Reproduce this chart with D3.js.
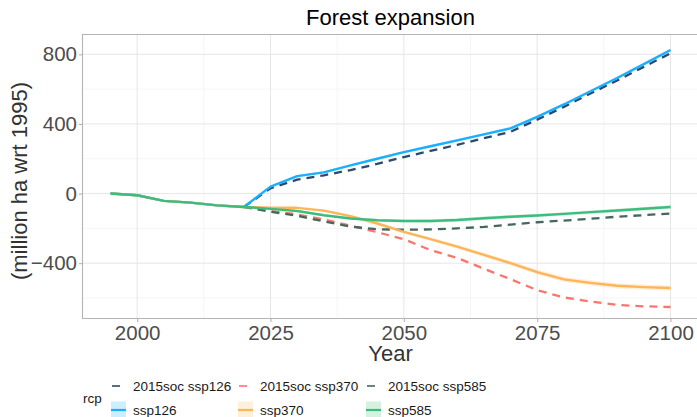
<!DOCTYPE html>
<html>
<head>
<meta charset="utf-8">
<script src="https://cdn.jsdelivr.net/npm/d3@7"></script>
<style>
  body { margin: 0; background: #fff; }
  svg { font-family: "Liberation Sans", Arial, sans-serif; }
</style>
</head>
<body>
<div id="chart"></div>
<script>
// years on the x axis (5-year steps)
var years = [1995, 2000, 2005, 2010, 2015, 2020, 2025, 2030, 2035, 2040, 2045,
    2050, 2055, 2060, 2065, 2070, 2075, 2080, 2085, 2090, 2095, 2100];

// shared history 1995..2020 (not "history", that name belongs to window)
var histValues = [0, -10, -42, -52, -68, -77];

// ssp runs 2025..2100 (solid lines with ribbons)
var ssp126 = [40, 100, 122, 162, 200, 238, 272, 306, 340, 375, 441, 512, 588, 664, 744, 825];
var ssp370 = [-82, -82, -98, -130, -172, -220, -262, -305, -352, -400, -451, -493, -513, -530, -538, -543];
var ssp585 = [-88, -100, -125, -143, -153, -158, -158, -152, -142, -133, -126, -117, -107, -97, -87, -77];

// ribbon half widths 2025..2100
var spread126 = [5, 6, 6, 7, 7, 7, 7, 8, 8, 8, 8, 8, 8, 8, 8, 8];
var spread370 = [4, 5, 6, 7, 8, 9, 10, 11, 12, 13, 14, 15, 15, 15, 15, 15];
var spread585 = [4, 5, 6, 7, 8, 9, 10, 10, 10, 10, 10, 10, 10, 10, 10, 10];

// 2015soc runs 2020..2100 (dashed)
var soc126 = [-77, 30, 80, 105, 135, 170, 210, 245, 280, 318, 355, 425, 498, 575, 650, 728, 806];
var soc370 = [-77, -100, -120, -148, -185, -222, -262, -325, -370, -432, -492, -555, -597, -620, -640, -648, -652];
var soc585 = [-77, -104, -128, -160, -190, -205, -208, -206, -200, -192, -178, -165, -155, -145, -133, -124, -115];

var xTicks = [2000, 2025, 2050, 2075, 2100];
var yTicks = [-400, 0, 400, 800];

var sspNames = ["ssp126", "ssp370", "ssp585"];
var socNames = ["2015soc ssp126", "2015soc ssp370", "2015soc ssp585"];
var sspColors = ["#1AB0FF", "#FDB55A", "#3DBD7D"];
var socColors = ["#2B4A6F", "#F8766D", "#44685A"];

// build series objects from the arrays
var futureYears = years.slice(5);
var sspSeries = [ssp126, ssp370, ssp585].map(function (vals, i) {
    var spreads = [spread126, spread370, spread585][i];
    var pts = histValues.map(function (v, j) { return { year: years[j], value: v, lo: v, hi: v }; });
    vals.forEach(function (v, j) {
        pts.push({ year: futureYears[j + 1], value: v, lo: v - spreads[j], hi: v + spreads[j] });
    });
    return { name: sspNames[i], color: sspColors[i], points: pts };
});
var socSeries = [soc126, soc370, soc585].map(function (vals, i) {
    return {
        name: socNames[i], color: socColors[i],
        points: vals.map(function (v, j) { return { year: futureYears[j], value: v }; })
    };
});

var W = 697, H = 417;
var margin = { top: 34.5, left: 82.5, bottom: 318.5, right: 698.5 };

var svg = d3.select("#chart").append("svg")
    .attr("width", W)
    .attr("height", H);

var x = d3.scaleLinear().domain([1989.75, 2105.25]).range([margin.left, margin.right]);
var y = d3.scaleLinear().domain([-718, 914]).range([margin.bottom, margin.top]);

// grid (minor first, then major)
var grid = svg.append("g");
var xMinor = [2012.5, 2037.5, 2062.5, 2087.5];
var yMinor = [-600, -200, 200, 600];
grid.selectAll(".xminor").data(xMinor).enter().append("line")
    .attr("x1", x).attr("x2", x)
    .attr("y1", margin.top).attr("y2", margin.bottom)
    .attr("stroke", "#F2F2F2").attr("stroke-width", 0.8);
grid.selectAll(".yminor").data(yMinor).enter().append("line")
    .attr("y1", y).attr("y2", y)
    .attr("x1", margin.left).attr("x2", margin.right)
    .attr("stroke", "#F2F2F2").attr("stroke-width", 0.8);
grid.selectAll(".xmajor").data(xTicks).enter().append("line")
    .attr("x1", x).attr("x2", x)
    .attr("y1", margin.top).attr("y2", margin.bottom)
    .attr("stroke", "#E6E6E6").attr("stroke-width", 1);
grid.selectAll(".ymajor").data(yTicks).enter().append("line")
    .attr("y1", y).attr("y2", y)
    .attr("x1", margin.left).attr("x2", margin.right)
    .attr("stroke", "#E6E6E6").attr("stroke-width", 1);

// ribbons
var area = d3.area()
    .x(function (d) { return x(d.year); })
    .y0(function (d) { return y(d.lo); })
    .y1(function (d) { return y(d.hi); });
svg.append("g").selectAll("path").data(sspSeries).enter().append("path")
    .attr("d", function (d) { return area(d.points.slice(5)); })
    .attr("fill", function (d) { return d.color; })
    .attr("fill-opacity", 0.22);

var line = d3.line()
    .x(function (d) { return x(d.year); })
    .y(function (d) { return y(d.value); });

// dashed 2015soc lines
svg.append("g").selectAll("path").data(socSeries).enter().append("path")
    .attr("d", function (d) { return line(d.points); })
    .attr("fill", "none")
    .attr("stroke", function (d) { return d.color; })
    .attr("stroke-width", 2.3)
    .attr("stroke-dasharray", "8,6");

// solid ssp lines
svg.append("g").selectAll("path").data(sspSeries).enter().append("path")
    .attr("d", function (d) { return line(d.points); })
    .attr("fill", "none")
    .attr("stroke", function (d) { return d.color; })
    .attr("stroke-width", 2.4)
    .attr("stroke-linejoin", "round");

// panel border (top + left visible, right is cropped)
svg.append("path")
    .attr("d", "M" + margin.right + "," + margin.top + "H" + margin.left + "V" + margin.bottom + "H" + margin.right)
    .attr("fill", "none")
    .attr("stroke", "#B3B3B3")
    .attr("stroke-width", 1.1);

// axes
var xAxis = svg.append("g")
    .attr("transform", "translate(0," + margin.bottom + ")")
    .call(d3.axisBottom(x).tickValues(xTicks).tickFormat(d3.format("d")).tickSize(3.5).tickPadding(3));
var yAxis = svg.append("g")
    .attr("transform", "translate(" + margin.left + ",0)")
    .call(d3.axisLeft(y).tickValues(yTicks).tickFormat(d3.format("d")).tickSize(3.5).tickPadding(2));
[xAxis, yAxis].forEach(function (ax) {
    ax.select(".domain").remove();
    ax.selectAll("line").attr("stroke", "#B3B3B3").attr("stroke-width", 1.1);
    ax.selectAll("text")
        .attr("font-size", "20.5px")
        .attr("font-family", "Liberation Sans, Arial, sans-serif")
        .attr("fill", "#4D4D4D");
});

// title and axis titles
svg.append("text")
    .attr("x", (margin.left + margin.right) / 2)
    .attr("y", 25)
    .attr("text-anchor", "middle")
    .style("font-size", "22px")
    .attr("fill", "#000")
    .text("Forest expansion");
svg.append("text")
    .attr("x", (margin.left + margin.right) / 2)
    .attr("y", 361)
    .attr("text-anchor", "middle")
    .style("font-size", "22px")
    .attr("fill", "#333")
    .text("Year");
svg.append("text")
    .attr("transform", "translate(27," + 181 + ") rotate(-90)")
    .attr("text-anchor", "middle")
    .style("font-size", "22px")
    .attr("fill", "#333")
    .text("(million ha wrt 1995)");

// legend
var legend = svg.append("g");
legend.append("text")
    .attr("x", 83).attr("y", 403)
    .style("font-size", "13.5px")
    .attr("fill", "#1a1a1a")
    .text("rcp");
var colX = [111, 238, 366];
var rowY = [386, 410];
socSeries.forEach(function (s, i) {
    legend.append("line")
        .attr("x1", colX[i] + 1).attr("x2", colX[i] + 9)
        .attr("y1", rowY[0]).attr("y2", rowY[0])
        .attr("stroke", s.color).attr("stroke-width", 2).attr("stroke-opacity", 0.8);
    legend.append("text")
        .attr("x", colX[i] + 22).attr("y", rowY[0] + 5)
        .style("font-size", "13.5px")
        .attr("fill", "#1a1a1a")
        .text(s.name);
});
sspSeries.forEach(function (s, i) {
    legend.append("rect")
        .attr("x", colX[i]).attr("y", rowY[1] - 8.5)
        .attr("width", 15).attr("height", 17)
        .attr("fill", s.color).attr("fill-opacity", 0.22);
    legend.append("line")
        .attr("x1", colX[i]).attr("x2", colX[i] + 15)
        .attr("y1", rowY[1]).attr("y2", rowY[1])
        .attr("stroke", s.color).attr("stroke-width", 2.2);
    legend.append("text")
        .attr("x", colX[i] + 22).attr("y", rowY[1] + 5)
        .style("font-size", "13.5px")
        .attr("fill", "#1a1a1a")
        .text(s.name);
});
</script>
</body>
</html>
